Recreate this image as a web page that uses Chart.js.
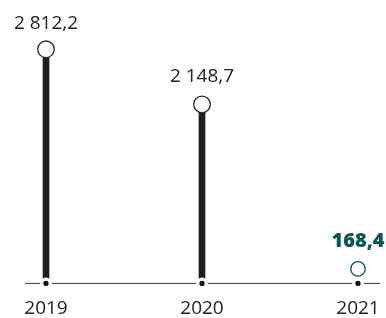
<!DOCTYPE html>
<html>
<head>
<meta charset="utf-8">
<script src="https://cdn.jsdelivr.net/npm/chart.js@4/dist/chart.umd.min.js"></script>
<style>
  html, body { margin: 0; padding: 0; background: #fff; }
  #wrap { width: 386px; height: 318px; position: relative; }
</style>
</head>
<body>
<div id="wrap"><canvas id="c" width="386" height="318"></canvas></div>
<script>
const categories = ['2019', '2020', '2021'];
const values = [2812.2, 2148.7, 168.4];

function fmt(v) {
  const parts = v.toFixed(1).split('.');
  const intPart = parts[0].replace(/\B(?=(\d{3})+(?!\d))/g, ' ');
  return intPart + ',' + parts[1];
}

const TEAL = '#0b5753';
const INK = '#222222';

const lollipopDecor = {
  id: 'lollipopDecor',
  beforeDatasetsDraw(chart) {
    const ctx = chart.ctx;
    const y = chart.chartArea.bottom;
    ctx.save();
    ctx.strokeStyle = '#3a3a3a';
    ctx.lineWidth = 1;
    ctx.beginPath();
    ctx.moveTo(chart.chartArea.left - 21, y + 0.5);
    ctx.lineTo(chart.chartArea.right + 22, y + 0.5);
    ctx.stroke();
    ctx.restore();
  },
  afterDatasetsDraw(chart) {
    const ctx = chart.ctx;
    const xs = chart.scales.x;
    const y = chart.chartArea.bottom + 0.5;
    ctx.save();
    categories.forEach((c, i) => {
      const x = xs.getPixelForTick(i);
      ctx.fillStyle = '#fff';
      ctx.beginPath(); ctx.arc(x, y, 5.8, 0, Math.PI * 2); ctx.fill();
      ctx.fillStyle = '#111';
      ctx.beginPath(); ctx.arc(x, y, 2.6, 0, Math.PI * 2); ctx.fill();
    });
    // value labels
    const meta = chart.getDatasetMeta(0);
    meta.data.forEach((el, i) => {
      const last = i === values.length - 1;
      ctx.font = last ? '800 20px "Open Sans"' : '19px "Open Sans"';
      ctx.fillStyle = last ? TEAL : INK;
      ctx.textAlign = 'center';
      ctx.textBaseline = 'middle';
      const ty = Math.max(el.y - 27.5, 24);
      ctx.fillText(fmt(values[i]), el.x, ty);
    });
    ctx.restore();
  }
};

new Chart(document.getElementById('c'), {
  type: 'bar',
  data: {
    labels: categories,
    datasets: [
      {
        type: 'line',
        data: values,
        showLine: false,
        order: 0,
        clip: false,
        pointRadius: [8.3, 8.3, 7.2],
        pointHoverRadius: [8.3, 8.3, 7.2],
        pointBackgroundColor: '#ffffff',
        pointBorderColor: ['#2a2a2a', '#2a2a2a', TEAL],
        pointBorderWidth: 1.3
      },
      {
        type: 'bar',
        data: values,
        order: 1,
        clip: false,
        barThickness: 6,
        backgroundColor: ['#1e1e1e', '#1e1e1e', 'rgba(0,0,0,0)'],
        borderWidth: 0
      }
    ]
  },
  options: {
    responsive: false,
    animation: false,
    events: [],
    layout: { padding: { left: 46, right: 28, top: 0, bottom: -16 } },
    plugins: { legend: { display: false }, tooltip: { enabled: false } },
    scales: {
      x: {
        offset: false,
        grid: { display: false, drawTicks: false },
        border: { display: false },
        afterFit(scale) {
          scale.paddingLeft = 0;
          scale.paddingRight = 0;
          scale.paddingTop = 0;
          scale.paddingBottom = 0;
        },
        ticks: {
          color: INK,
          padding: 17,
          font: { family: '"Open Sans"', size: 19, lineHeight: 0.9 },
          maxRotation: 0,
          autoSkip: false
        }
      },
      y: {
        display: false,
        min: 0,
        max: 3290
      }
    }
  },
  plugins: [lollipopDecor]
});
</script>
</body>
</html>
